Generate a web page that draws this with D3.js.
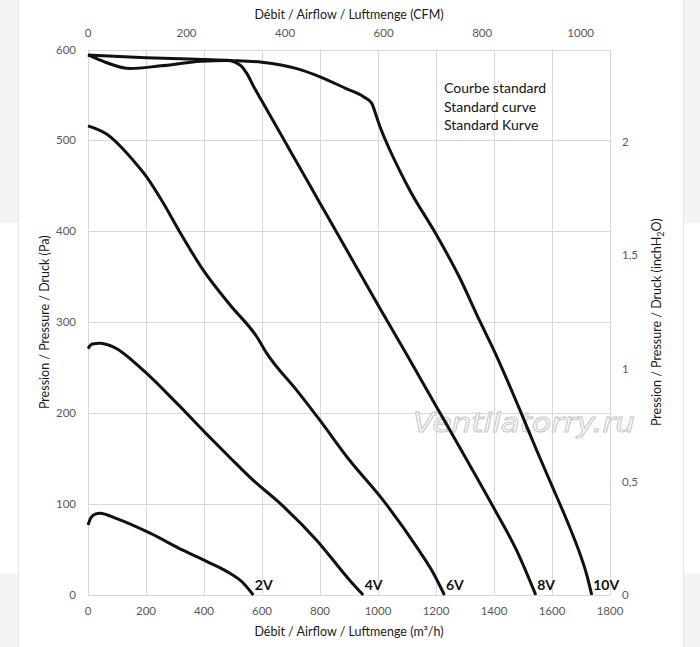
<!DOCTYPE html>
<html lang="fr">
<head>
    <meta charset="UTF-8">
    <title>Courbe standard</title>
    <script src="https://d3js.org/d3.v7.min.js"></script>
    <style type="text/css">
        body {
            margin: 0;
            background-color: #f3f3f3;
        }

        .grid line {
            stroke: #d9d9d9;
            stroke-width: 1px;
        }

        .tick-label {
            font-family: Lato, sans-serif;
            font-size: 11.5px;
            fill: #595959;
        }

        .title {
            font-family: Lato, sans-serif;
            font-size: 12.5px;
            fill: #1a1a1a;
            text-anchor: middle;
        }

        .legend {
            font-family: Lato, sans-serif;
            font-size: 14px;
            fill: #111;
        }

        .curve {
            fill: none;
            stroke: #111;
            stroke-width: 3px;
            stroke-linejoin: round;
        }

        .volt {
            font-family: Lato, sans-serif;
            font-size: 14px;
            font-weight: bold;
            fill: #111;
        }

        .watermark {
            font-family: "DejaVu Sans", sans-serif;
            font-style: italic;
            font-size: 27px;
            fill: #fff;
            stroke: #c8c8c8;
            stroke-width: 1px;
        }
    </style>
</head>
<body>
    <script type="text/javascript">
        //DATA - flow in m3/h, pressure in Pa
        const flow2 = [0, 10, 25, 41, 99, 214, 329, 409, 478, 536, 570];
        const press2 = [77, 85, 89, 90, 84, 68, 49, 37, 26, 13, 0];

        const flow4 = [0, 15, 41, 87, 191, 306, 409, 490, 570, 651, 789, 903, 949];
        const press4 = [271, 276, 277, 273, 247, 211, 177, 151, 126, 104, 60, 16, 0];

        const flow6 = [0, 64, 156, 202, 260, 317, 398, 490, 582, 616, 720, 800, 900, 1018, 1133, 1191, 1229];
        const press6 = [516, 507, 478, 460, 431, 399, 357, 319, 284, 266, 225, 192, 149, 104, 53, 24, 0];

        const flow8 = [0, 60, 145, 250, 390, 480, 524, 547, 575, 604, 700, 800, 900, 1000, 1100, 1200, 1300, 1397, 1478, 1544];
        const press8 = [594, 586, 579, 582, 587, 588, 583, 574, 557, 541, 487, 431, 375, 319, 264, 208, 152, 97, 49, 0];

        const flow10 = [0, 200, 400, 490, 600, 720, 800, 890, 950, 978, 995, 1007, 1040, 1076, 1110, 1200, 1280, 1350, 1410, 1490, 1550, 1600, 1650, 1700, 1720, 1737];
        const press10 = [594, 591, 589, 588, 586, 579, 570, 557, 548, 541, 526, 515, 490, 466, 445, 397, 350, 302, 262, 203, 157, 120, 83, 42, 22, 0];

        const voltLabels = ["2V", "4V", "6V", "8V", "10V"];

        const flowTicks = [0, 200, 400, 600, 800, 1000, 1200, 1400, 1600, 1800];
        const pressTicks = [0, 100, 200, 300, 400, 500, 600];
        const cfmTicks = [0, 200, 400, 600, 800, 1000];
        const inchTicks = [0, 0.5, 1, 1.5, 2];

        const legendLines = ["Courbe standard", "Standard curve", "Standard Kurve"];

        //CONSTANTS
        const width = 700;
        const height = 647;
        const plotLeft = 88, plotRight = 610, plotTop = 49.5, plotBottom = 595;
        const m3hPerCfm = 1.699;
        const paPerInch = 249.09;

        //SCALES
        const xScale = d3.scaleLinear().domain([0, 1800]).range([plotLeft, plotRight]);
        const yScale = d3.scaleLinear().domain([0, 600]).range([plotBottom, plotTop]);
        const xCfm = d3.scaleLinear().domain([0, 1800 / m3hPerCfm]).range([plotLeft, plotRight]);
        const yInch = d3.scaleLinear().domain([0, 600 / paPerInch]).range([plotBottom, plotTop]);

        //SVG
        const svg = d3.select("body")
            .append("svg")
            .attr("width", width)
            .attr("height", height)
            .style("display", "block");

        //BACKGROUND (screenshot card)
        svg.append("rect").attr("x", 0).attr("y", 223).attr("width", width).attr("height", 350).attr("fill", "#fff");
        svg.append("rect").attr("x", 18).attr("y", 0).attr("width", 665).attr("height", height).attr("fill", "#fff");
        svg.append("line").attr("x1", 18.5).attr("x2", 18.5).attr("y1", 0).attr("y2", height).attr("stroke", "#e6e6e6");
        svg.append("line").attr("x1", 683.5).attr("x2", 683.5).attr("y1", 0).attr("y2", height).attr("stroke", "#e6e6e6");

        //GRID
        const grid = svg.append("g").attr("class", "grid");
        grid.selectAll(".v")
            .data(flowTicks)
            .join("line")
            .attr("class", "v")
            .attr("x1", d => Math.round(xScale(d)) + 0.5)
            .attr("x2", d => Math.round(xScale(d)) + 0.5)
            .attr("y1", plotTop)
            .attr("y2", plotBottom);
        grid.selectAll(".h")
            .data(pressTicks)
            .join("line")
            .attr("class", "h")
            .attr("x1", plotLeft)
            .attr("x2", plotRight)
            .attr("y1", d => Math.round(yScale(d)) + 0.5)
            .attr("y2", d => Math.round(yScale(d)) + 0.5);

        //WATERMARK
        svg.append("text")
            .attr("class", "watermark")
            .attr("x", 413)
            .attr("y", 432)
            .attr("textLength", 222)
            .attr("lengthAdjust", "spacingAndGlyphs")
            .text("Ventilatorry.ru");

        //TICK LABELS - bottom (m3/h)
        svg.selectAll(".xb")
            .data(flowTicks)
            .join("text")
            .attr("class", "tick-label xb")
            .attr("x", d => xScale(d))
            .attr("y", 615)
            .attr("text-anchor", "middle")
            .text(d => d);

        //top (CFM)
        svg.selectAll(".xt")
            .data(cfmTicks)
            .join("text")
            .attr("class", "tick-label xt")
            .attr("x", d => xCfm(d))
            .attr("y", 37)
            .attr("text-anchor", "middle")
            .text(d => d);

        //left (Pa)
        svg.selectAll(".yl")
            .data(pressTicks)
            .join("text")
            .attr("class", "tick-label yl")
            .attr("x", 76)
            .attr("y", d => yScale(d) + 4)
            .attr("text-anchor", "end")
            .text(d => d);

        //right (inchH2O)
        svg.selectAll(".yr")
            .data(inchTicks)
            .join("text")
            .attr("class", "tick-label yr")
            .attr("x", 622)
            .attr("y", d => yInch(d) + 4)
            .attr("text-anchor", "start")
            .text(d => String(d).replace(".", ","));

        //AXIS TITLES
        svg.append("text")
            .attr("class", "title")
            .attr("x", (plotLeft + plotRight) / 2)
            .attr("y", 19)
            .text("Débit / Airflow / Luftmenge (CFM)");

        svg.append("text")
            .attr("class", "title")
            .attr("x", (plotLeft + plotRight) / 2)
            .attr("y", 636)
            .text("Débit / Airflow / Luftmenge (m³/h)");

        svg.append("text")
            .attr("class", "title")
            .attr("transform", "translate(49," + ((plotTop + plotBottom) / 2) + ") rotate(-90)")
            .text("Pression / Pressure / Druck (Pa)");

        const rt = svg.append("text")
            .attr("class", "title")
            .attr("transform", "translate(661," + ((plotTop + plotBottom) / 2) + ") rotate(-90)");
        rt.append("tspan").text("Pression / Pressure / Druck (inchH");
        rt.append("tspan").attr("font-size", "9px").attr("dy", 3).text("2");
        rt.append("tspan").attr("dy", -3).text("O)");

        //LEGEND TEXT
        svg.selectAll(".legend")
            .data(legendLines)
            .join("text")
            .attr("class", "legend")
            .attr("x", 444)
            .attr("y", (d, i) => 93 + i * 18.5)
            .text(d => d);

        //CURVES
        const series = [
            { flow: flow2, press: press2, label: voltLabels[0] },
            { flow: flow4, press: press4, label: voltLabels[1] },
            { flow: flow6, press: press6, label: voltLabels[2] },
            { flow: flow8, press: press8, label: voltLabels[3] },
            { flow: flow10, press: press10, label: voltLabels[4] }
        ];

        const line = d3.line()
            .curve(d3.curveMonotoneX)
            .x(d => xScale(d[0]))
            .y(d => yScale(d[1]));

        series.forEach(s => {
            const pts = s.flow.map((f, i) => [f, s.press[i]]);
            svg.append("path")
                .attr("class", "curve")
                .attr("d", line(pts));

            svg.append("text")
                .attr("class", "volt")
                .attr("x", xScale(s.flow[s.flow.length - 1]) + 1.5)
                .attr("y", 590)
                .text(s.label);
        });
    </script>
</body>
</html>
